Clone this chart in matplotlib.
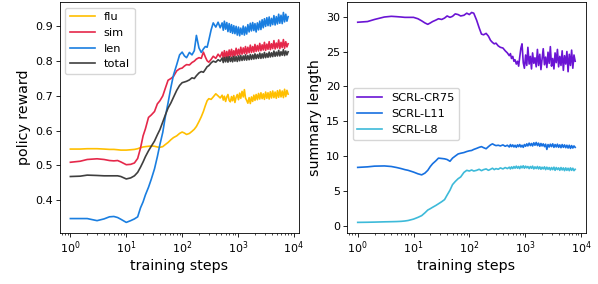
import matplotlib
matplotlib.use("Agg")
import matplotlib.pyplot as plt

steps = [1, 1.5, 2, 3, 4, 5, 6, 7, 8, 10, 12, 14, 16, 18, 20, 22, 25, 28, 32, 36,
         40, 45, 50, 56, 63, 70, 80, 90, 100, 110, 120, 135, 150, 165, 180, 200,
         220, 240, 260, 280, 300, 330, 360, 400, 440, 480,
         520, 545, 570, 600, 630, 660, 695, 730, 765, 800, 840, 880, 925, 970,
         1020, 1070, 1120, 1180, 1240, 1300, 1360, 1430, 1500, 1580, 1660, 1740,
         1830, 1920, 2010, 2110, 2220, 2330, 2450, 2570, 2700, 2830, 2970, 3120,
         3280, 3440, 3610, 3790, 3980, 4180, 4390, 4610, 4840, 5080, 5340, 5600,
         5880, 6180, 6490, 6810, 7150, 7500, 7880]

flu = [0.547, 0.547, 0.548, 0.548, 0.547, 0.546, 0.546, 0.545, 0.544,
       0.544, 0.545, 0.546, 0.548, 0.551, 0.553, 0.554, 0.555, 0.556, 0.555, 0.553,
       0.552, 0.554, 0.560, 0.566, 0.574, 0.580, 0.585, 0.592, 0.596, 0.593, 0.589,
       0.592, 0.598, 0.604, 0.612, 0.626, 0.640, 0.655, 0.672, 0.686, 0.692, 0.690,
       0.697, 0.706, 0.700, 0.694,
       0.702, 0.688, 0.699, 0.684, 0.697, 0.704, 0.687, 0.683, 0.698, 0.686, 0.701,
       0.681, 0.696, 0.704, 0.689, 0.708, 0.693, 0.713, 0.697, 0.718, 0.694, 0.687,
       0.679, 0.695, 0.678, 0.697, 0.684, 0.702, 0.687, 0.704, 0.689, 0.707, 0.691,
       0.709, 0.692, 0.706, 0.690, 0.711, 0.693, 0.709, 0.691, 0.712, 0.694, 0.714,
       0.695, 0.711, 0.693, 0.715, 0.696, 0.717, 0.697, 0.714, 0.695, 0.719, 0.698,
       0.716, 0.705]

sim = [0.509, 0.512, 0.517, 0.519, 0.517, 0.514, 0.513, 0.514, 0.510,
       0.502, 0.503, 0.507, 0.520, 0.550, 0.585, 0.605, 0.638, 0.645, 0.655, 0.677,
       0.686, 0.700, 0.722, 0.745, 0.750, 0.756, 0.772, 0.778, 0.780, 0.786, 0.790,
       0.789, 0.796, 0.800, 0.806, 0.810, 0.808, 0.826, 0.812, 0.801, 0.797, 0.805,
       0.814, 0.808, 0.820, 0.812,
       0.826, 0.808, 0.830, 0.811, 0.828, 0.809, 0.832, 0.814, 0.834, 0.813, 0.830,
       0.815, 0.837, 0.817, 0.834, 0.818, 0.840, 0.820, 0.838, 0.822, 0.842, 0.821,
       0.840, 0.824, 0.846, 0.825, 0.842, 0.826, 0.848, 0.828, 0.845, 0.829, 0.851,
       0.830, 0.847, 0.832, 0.854, 0.831, 0.849, 0.834, 0.856, 0.833, 0.850, 0.836,
       0.859, 0.835, 0.852, 0.838, 0.861, 0.836, 0.854, 0.839, 0.862, 0.837, 0.856,
       0.841, 0.850]

length = [0.347, 0.347, 0.347, 0.341, 0.346, 0.352, 0.353, 0.350, 0.345,
          0.336, 0.341, 0.346, 0.352, 0.378, 0.395, 0.415, 0.437, 0.460, 0.490, 0.525,
          0.560, 0.595, 0.640, 0.680, 0.725, 0.760, 0.790, 0.818, 0.826, 0.815, 0.810,
          0.825, 0.818, 0.830, 0.874, 0.838, 0.825, 0.835, 0.842, 0.840, 0.860, 0.890,
          0.910, 0.898, 0.912, 0.896,
          0.910, 0.889, 0.915, 0.892, 0.911, 0.885, 0.908, 0.883, 0.905, 0.880, 0.902,
          0.879, 0.900, 0.875, 0.898, 0.873, 0.895, 0.877, 0.901, 0.875, 0.898, 0.878,
          0.905, 0.884, 0.909, 0.887, 0.911, 0.888, 0.908, 0.884, 0.910, 0.890, 0.915,
          0.891, 0.919, 0.896, 0.922, 0.900, 0.925, 0.902, 0.927, 0.901, 0.923, 0.905,
          0.931, 0.904, 0.928, 0.907, 0.935, 0.909, 0.932, 0.908, 0.940, 0.913, 0.935,
          0.915, 0.928]

total = [0.468, 0.469, 0.472, 0.471, 0.470, 0.470, 0.470, 0.470, 0.468,
         0.461, 0.464, 0.470, 0.480, 0.495, 0.510, 0.525, 0.542, 0.555, 0.570, 0.588,
         0.603, 0.625, 0.645, 0.665, 0.680, 0.696, 0.716, 0.730, 0.738, 0.740, 0.742,
         0.746, 0.752, 0.750, 0.758, 0.766, 0.770, 0.768, 0.776, 0.784, 0.787, 0.795,
         0.800, 0.797, 0.804, 0.800,
         0.809, 0.796, 0.811, 0.798, 0.812, 0.797, 0.813, 0.799, 0.811, 0.798, 0.814,
         0.800, 0.813, 0.799, 0.815, 0.801, 0.816, 0.802, 0.815, 0.803, 0.818, 0.803,
         0.816, 0.804, 0.819, 0.805, 0.818, 0.806, 0.821, 0.807, 0.819, 0.808, 0.823,
         0.808, 0.821, 0.809, 0.825, 0.810, 0.822, 0.811, 0.826, 0.812, 0.824, 0.813,
         0.829, 0.814, 0.826, 0.815, 0.831, 0.815, 0.827, 0.817, 0.833, 0.816, 0.829,
         0.818, 0.827]

cr75 = [29.2, 29.3, 29.6, 29.95, 30.05, 30.0, 29.95, 29.9, 29.9,
        29.9, 29.7, 29.4, 29.1, 28.9, 29.1, 29.3, 29.5, 29.7, 29.6, 29.8,
        30.1, 29.9, 30.05, 30.4, 30.3, 30.1, 30.2, 30.5, 30.3, 30.6, 30.5,
        29.5, 28.4, 27.5, 27.4, 27.6, 27.2, 26.6, 26.3, 26.1, 26.2, 25.8,
        25.6, 25.5, 25.1, 24.8,
        24.4, 24.7, 24.0, 24.3, 23.6, 23.8, 23.2, 23.6, 22.9, 24.2, 25.5,
        26.1, 23.4, 22.6, 24.5, 23.0, 25.6, 23.2, 24.3, 22.5, 24.8, 23.3,
        24.1, 22.8, 25.3, 23.0, 24.6, 22.4, 23.9, 25.4, 23.1, 24.2, 22.7,
        24.9, 23.3, 25.7, 22.9, 24.0, 22.5, 24.8, 23.4, 25.3, 22.8, 24.3,
        23.0, 25.1, 22.3, 24.4, 23.2, 25.0, 22.1, 24.6, 23.0, 25.2, 22.6,
        24.5, 23.6]

l11 = [8.37, 8.45, 8.55, 8.58, 8.5, 8.35, 8.2, 8.05, 7.95,
       7.7, 7.45, 7.3, 7.55, 7.95, 8.5, 8.9, 9.3, 9.7, 9.65, 9.6,
       9.5, 9.25, 9.7, 10.0, 10.3, 10.4, 10.5, 10.65, 10.75, 10.8, 10.95,
       11.1, 11.25, 11.35, 11.2, 11.05, 11.35, 11.6, 11.75, 11.6, 11.5, 11.55,
       11.45, 11.6, 11.4, 11.55,
       11.3, 11.65, 11.35, 11.6, 11.3, 11.55, 11.25, 11.6, 11.35, 11.65, 11.3,
       11.55, 11.25, 11.65, 11.4, 11.75, 11.45, 11.85, 11.5, 11.8, 11.45, 11.9,
       11.55, 11.95, 11.5, 11.85, 11.4, 11.8, 11.45, 11.75, 11.35, 11.7, 10.95,
       11.65, 11.3, 11.7, 11.35, 11.75, 11.25, 11.65, 11.3, 11.7, 11.25, 11.6,
       11.2, 11.65, 11.25, 11.6, 11.2, 11.55, 11.15, 11.55, 11.1, 11.5, 11.15,
       11.45, 11.25]

l8 = [0.48, 0.5, 0.52, 0.56, 0.58, 0.6, 0.63, 0.68, 0.75,
      0.95, 1.2, 1.45, 1.85, 2.25, 2.45, 2.65, 2.9, 3.15, 3.45, 3.75,
      4.4, 5.1, 5.9, 6.35, 6.75, 7.0, 7.65, 7.95, 7.85, 8.0, 7.85,
      7.95, 8.1, 7.9, 8.05, 8.15, 7.95, 8.1, 8.25, 8.05, 8.2, 8.1,
      8.3, 8.15, 8.35, 8.2,
      8.4, 8.15, 8.45, 8.2, 8.5, 8.25, 8.55, 8.25, 8.5, 8.2, 8.55,
      8.3, 8.6, 8.25, 8.55, 8.3, 8.5, 8.2, 8.5, 8.25, 8.55, 8.15,
      8.45, 8.2, 8.5, 8.15, 8.45, 8.1, 8.4, 8.15, 8.45, 8.05, 8.4,
      8.1, 8.35, 8.0, 8.35, 8.05, 8.4, 7.95, 8.35, 8.05, 8.3, 7.95,
      8.35, 8.0, 8.3, 7.9, 8.3, 7.95, 8.25, 7.9, 8.3, 7.95, 8.25,
      7.9, 8.1]

reward_series = [("flu", flu, "#ffbf00"), ("sim", sim, "#e5284a"),
                 ("len", length, "#1a7ee0"), ("total", total, "#3f3f3f")]
length_series = [("SCRL-CR75", cr75, "#6a14d4"), ("SCRL-L11", l11, "#1670e0"),
                 ("SCRL-L8", l8, "#3dbad9")]

fig = plt.figure(figsize=(5.98, 2.84), dpi=100)
ax1 = fig.add_axes([0.0995, 0.18, 0.4005, 0.813])
ax2 = fig.add_axes([0.580, 0.18, 0.400, 0.813])

for ax, series, ylabel in [(ax1, reward_series, "policy reward"),
                           (ax2, length_series, "summary length")]:
    for name, vals, col in series:
        ax.plot(steps, vals, color=col, lw=1.2, label=name)
    ax.set_xscale("log")
    ax.set_xlabel("training steps", fontsize=10.2, labelpad=2)
    ax.set_ylabel(ylabel, fontsize=10.2, labelpad=3)
    ax.tick_params(which="major", labelsize=8, length=2.8, width=0.6, pad=2)
    ax.tick_params(which="minor", length=1.6, width=0.5)
    for sp in ax.spines.values():
        sp.set_linewidth(0.6)

ax1.set_yticks([0.4, 0.5, 0.6, 0.7, 0.8, 0.9])
ax2.set_yticks([0, 5, 10, 15, 20, 25, 30])
ax1.legend(loc="upper left", fontsize=8.2, labelspacing=0.5, handlelength=2.2)
ax2.legend(loc="center left", bbox_to_anchor=(0, 0.515), fontsize=8.2,
           labelspacing=0.55, handlelength=2.2)

fig.savefig("out.png", dpi=100)
